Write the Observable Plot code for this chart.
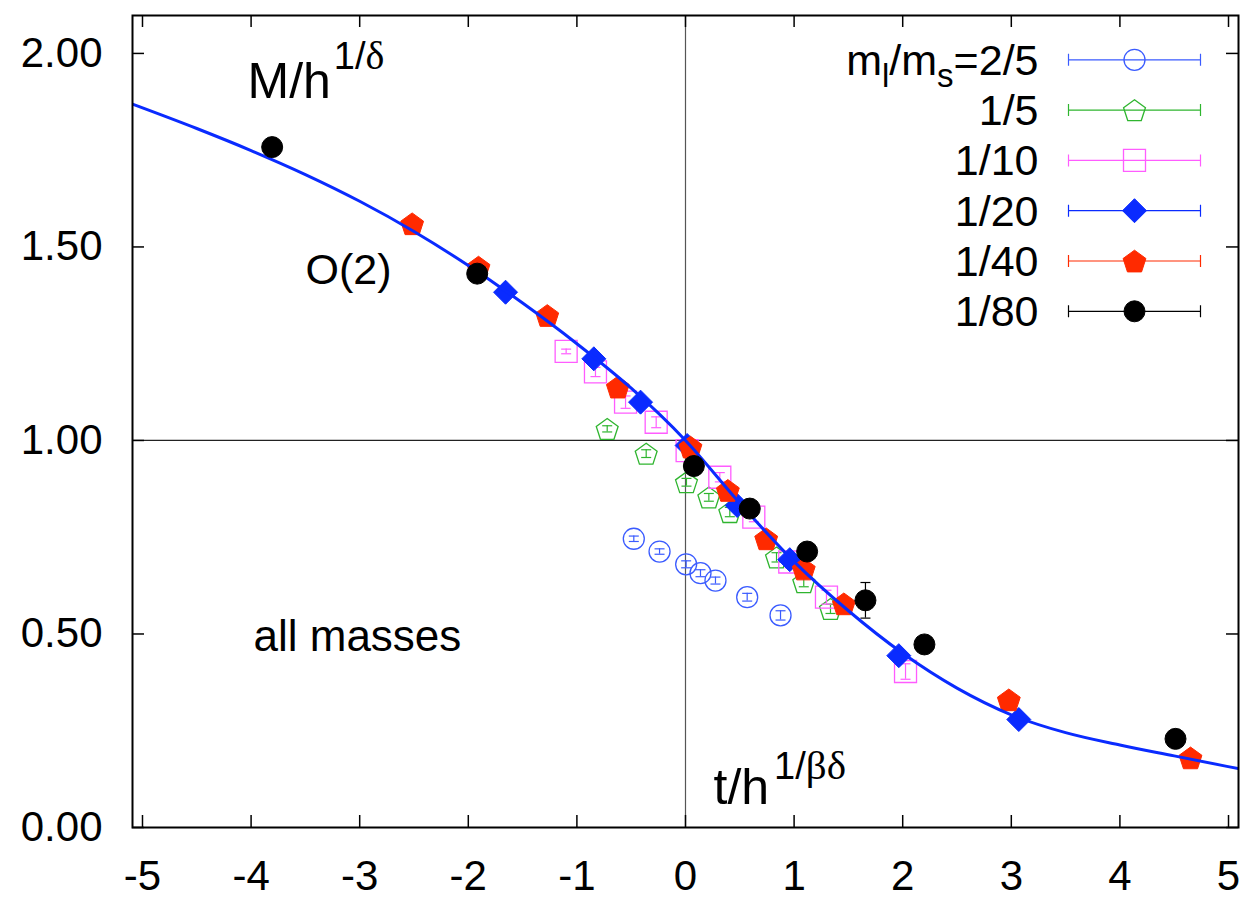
<!DOCTYPE html>
<html>
<head>
<meta charset="utf-8">
<script src="https://cdn.jsdelivr.net/npm/d3@7"></script>
<script src="https://cdn.jsdelivr.net/npm/@observablehq/plot@0.6"></script>
<style>
  html, body { margin: 0; padding: 0; background: #fff; }
  #chart { width: 1258px; height: 903px; }
</style>
</head>
<body>
<div id="chart"></div>
<script>
// ---------- data ----------
const xTicks = [-5, -4, -3, -2, -1, 0, 1, 2, 3, 4, 5];
const yTicks = [0, 0.5, 1, 1.5, 2];
const legendLabels = ["ml/ms=2/5", "1/5", "1/10", "1/20", "1/40", "1/80"];

// m_l/m_s = 2/5
const s25_x = [-0.476, -0.239, 0.006, 0.138, 0.276, 0.568, 0.875];
const s25_y = [0.746, 0.713, 0.680, 0.657, 0.638, 0.595, 0.548];
const s25_e = [0.007, 0.007, 0.009, 0.009, 0.009, 0.010, 0.012];
// 1/5
const s5_x = [-0.721, -0.362, 0.009, 0.215, 0.408, 0.838, 1.089, 1.335];
const s5_y = [1.030, 0.966, 0.892, 0.853, 0.815, 0.698, 0.634, 0.565];
const s5_e = [0.008, 0.010, 0.010, 0.010, 0.012, 0.012, 0.012, 0.012];
// 1/10
const s10_x = [-1.099, -0.829, -0.552, -0.270, 0.015, 0.316, 0.629, 0.960, 1.298, 2.026];
const s10_y = [1.230, 1.177, 1.099, 1.047, 0.974, 0.905, 0.802, 0.686, 0.595, 0.403];
const s10_e = [0.006, 0.012, 0.016, 0.014, 0.012, 0.012, 0.012, 0.015, 0.018, 0.020];
// 1/20
const s20_x = [-1.657, -0.844, -0.414, 0.015, 0.476, 0.960, 1.964, 3.069];
const s20_y = [1.383, 1.211, 1.099, 0.987, 0.832, 0.692, 0.444, 0.279];
const s20_e = [0.004, 0.004, 0.004, 0.004, 0.004, 0.004, 0.004, 0.004];
// 1/40
const s40_x = [-2.517, -1.906, -1.273, -0.623, 0.046, 0.390, 0.743, 1.089, 1.458, 2.977, 4.650];
const s40_y = [1.560, 1.448, 1.323, 1.138, 0.983, 0.871, 0.746, 0.668, 0.578, 0.330, 0.180];
const s40_e = [0.005, 0.012, 0.006, 0.010, 0.006, 0.006, 0.006, 0.006, 0.008, 0.005, 0.005];
// 1/80
const s80_x = [-3.806, -1.918, 0.077, 0.592, 1.120, 1.657, 2.200, 4.512];
const s80_y = [1.758, 1.431, 0.934, 0.824, 0.713, 0.587, 0.473, 0.229];
const s80_e = [0.006, 0.006, 0.008, 0.008, 0.010, 0.046, 0.008, 0.008];

// O(2) scaling curve
const curveX = [-5.092, -4.5, -4.0, -3.5, -3.0, -2.5, -2.0, -1.5, -1.0, -0.5, 0.0, 0.5, 1.0, 1.5, 2.0, 2.5, 3.0, 3.5, 4.0, 4.5, 5.092];
const curveY = [1.869, 1.806, 1.749, 1.687, 1.618, 1.540, 1.452, 1.355, 1.250, 1.135, 1.000, 0.838, 0.687, 0.560, 0.450, 0.360, 0.291, 0.245, 0.213, 0.185, 0.152];

// ---------- symbols ----------
const pentagonSym = { draw(ctx, size) {
  const R = Math.sqrt(size / Math.PI);
  for (let k = 0; k < 5; k++) {
    const a = -Math.PI / 2 + k * 2 * Math.PI / 5;
    const px = R * Math.cos(a), py = R * Math.sin(a) + R * 0.1;
    k ? ctx.lineTo(px, py) : ctx.moveTo(px, py);
  }
  ctx.closePath();
}};
const squareSym = { draw(ctx, size) {
  const h = Math.sqrt(size / Math.PI);
  ctx.moveTo(-h, -h); ctx.lineTo(h, -h); ctx.lineTo(h, h); ctx.lineTo(-h, h); ctx.closePath();
}};
const diamondSym = { draw(ctx, size) {
  const h = Math.sqrt(size / Math.PI);
  ctx.moveTo(0, -h); ctx.lineTo(h, 0); ctx.lineTo(0, h); ctx.lineTo(-h, 0); ctx.closePath();
}};
const capSym = { draw(ctx, size) {
  const h = Math.sqrt(size / Math.PI);
  ctx.moveTo(-h, 0); ctx.lineTo(h, 0);
}};
const legendBarSym = { draw(ctx, size) {
  const h = Math.sqrt(size / Math.PI);
  ctx.moveTo(-h, 0); ctx.lineTo(h, 0);
  ctx.moveTo(-h, -6); ctx.lineTo(-h, 6);
  ctx.moveTo(h, -6); ctx.lineTo(h, 6);
}};

const series = [
  {x: s25_x, y: s25_y, e: s25_e, color: "#3a5bff", symbol: "circle", r: 10.5, fill: "none", sw: 1.3},
  {x: s5_x,  y: s5_y,  e: s5_e,  color: "#2fb52f", symbol: pentagonSym, r: 11.5, fill: "none", sw: 1.3},
  {x: s10_x, y: s10_y, e: s10_e, color: "#ff5cff", symbol: squareSym, r: 11, fill: "none", sw: 1.3},
  {x: s20_x, y: s20_y, e: s20_e, color: "#0a2bff", symbol: diamondSym, r: 12, fill: "#0a2bff", sw: 1},
  {x: s40_x, y: s40_y, e: s40_e, color: "#ff2a00", symbol: pentagonSym, r: 12, fill: "#ff2a00", sw: 1},
  {x: s80_x, y: s80_y, e: s80_e, color: "#000000", symbol: "circle", r: 10.5, fill: "#000000", sw: 1}
];

function seriesMarks(s) {
  const data = s.x.map((x, i) => ({x, y: s.y[i], e: s.e[i]}));
  return [
    Plot.ruleX(data, {x: "x", y1: d => d.y - d.e, y2: d => d.y + d.e, stroke: s.color, strokeWidth: 1.2}),
    Plot.dot(data, {x: "x", y: d => d.y + d.e, symbol: capSym, r: 5, stroke: s.color, fill: "none", strokeWidth: 1.2}),
    Plot.dot(data, {x: "x", y: d => d.y - d.e, symbol: capSym, r: 5, stroke: s.color, fill: "none", strokeWidth: 1.2}),
    Plot.dot(data, {x: "x", y: "y", symbol: s.symbol, r: s.r, fill: s.fill, stroke: s.color, strokeWidth: s.sw})
  ];
}

function legendMarks(s, i, label) {
  const dy = 44.3 + 50.3 * i;
  return [
    Plot.dot([0], {frameAnchor: "top-right", dx: -104, dy, symbol: legendBarSym, r: 66, stroke: s.color, fill: "none", strokeWidth: 1.2}),
    Plot.dot([0], {frameAnchor: "top-right", dx: -104, dy, symbol: s.symbol, r: s.r, fill: s.fill, stroke: s.color, strokeWidth: s.sw}),
    Plot.text([label], {frameAnchor: "top-right", dx: -200, dy: dy + 15, text: d => d, textAnchor: "end", lineAnchor: "bottom", fontSize: 43, fill: "black"})
  ];
}

const curveData = curveX.map((x, i) => ({x, y: curveY[i]}));
const W = 1258, H = 903, mL = 132, mR = 20, mT = 15, mB = 76;
const frameW = W - mL - mR, frameH = H - mT - mB;

const marks = [
  Plot.ruleX([0], {stroke: "#555", strokeWidth: 1.2}),
  Plot.ruleY([1], {stroke: "#222", strokeWidth: 1.2}),
  // inward ticks on all four sides
  Plot.ruleX(xTicks, {x: d => d, insetTop: frameH - 12, stroke: "black", strokeWidth: 1.5}),
  Plot.ruleX(xTicks, {x: d => d, insetBottom: frameH - 12, stroke: "black", strokeWidth: 1.5}),
  Plot.ruleY(yTicks, {y: d => d, insetRight: frameW - 12, stroke: "black", strokeWidth: 1.5}),
  Plot.ruleY(yTicks, {y: d => d, insetLeft: frameW - 12, stroke: "black", strokeWidth: 1.5}),
  Plot.axisX({ticks: xTicks, tickSize: 0, tickPadding: 33, fontSize: 42, tickFormat: d => String(d), label: null}),
  Plot.axisY({ticks: yTicks, tickSize: 0, tickPadding: 30, fontSize: 42, tickFormat: d3.format(".2f"), label: null})
];
series.slice(0, 5).forEach(s => marks.push(...seriesMarks(s)));
marks.push(Plot.line(curveData, {x: "x", y: "y", curve: "monotone-x", stroke: "#0a2bff", strokeWidth: 3, clip: true}));
marks.push(...seriesMarks(series[5]));
series.forEach((s, i) => marks.push(...legendMarks(s, i, legendLabels[i])));
// annotations
marks.push(
  Plot.text(["M/h"], {frameAnchor: "top-left", dx: 115, dy: 82, text: d => d, textAnchor: "start", lineAnchor: "bottom", fontSize: 50, fill: "black"}),
  Plot.text(["O(2)"], {frameAnchor: "top-left", dx: 173, dy: 268, text: d => d, textAnchor: "start", lineAnchor: "bottom", fontSize: 43, fill: "black"}),
  Plot.text(["all masses"], {frameAnchor: "top-left", dx: 121, dy: 635, text: d => d, textAnchor: "start", lineAnchor: "bottom", fontSize: 44, fill: "black"}),
  Plot.text(["t/h"], {frameAnchor: "top-left", dx: 581, dy: 788, text: d => d, textAnchor: "start", lineAnchor: "bottom", fontSize: 50, fill: "black"}),
  Plot.frame({stroke: "black", strokeWidth: 2})
);

const chart = Plot.plot({
  width: W, height: H,
  marginLeft: mL, marginRight: mR, marginTop: mT, marginBottom: mB,
  x: {domain: [-5.092, 5.092]},
  y: {domain: [0, 2.098]},
  style: {fontFamily: "'Liberation Sans', Arial, Helvetica, sans-serif", background: "white", color: "black", overflow: "visible"},
  marks
});
document.getElementById("chart").appendChild(chart);

// rich text (sub/superscripts) as real tspans
const NS = "http://www.w3.org/2000/svg";
function rich(el, parts) {
  el.textContent = "";
  for (const p of parts) {
    const ts = document.createElementNS(NS, "tspan");
    ts.textContent = p.t;
    if (p.dy) ts.setAttribute("dy", p.dy);
    if (p.size) ts.setAttribute("font-size", p.size);
    if (p.family) ts.setAttribute("font-family", p.family);
    if (p.dx) ts.setAttribute("dx", p.dx);
    el.appendChild(ts);
  }
}
const serif = "'Liberation Serif', 'DejaVu Serif', serif";
chart.querySelectorAll("text").forEach(el => {
  const t = el.textContent;
  if (t === "ml/ms=2/5") {
    rich(el, [{t: "m"}, {t: "l", dy: 12, size: 33}, {t: "/m", dy: -12}, {t: "s", dy: 12, size: 33}, {t: "=2/5", dy: -12}]);
  } else if (t === "M/h") {
    rich(el, [{t: "M/h"}, {t: "1/", dy: -29, size: 38, dx: 3}, {t: "δ", size: 40, family: serif}]);
  } else if (t === "t/h") {
    rich(el, [{t: "t/h"}, {t: "1/", dy: -25, size: 38, dx: 5}, {t: "βδ", size: 41, family: serif}]);
  }
});
</script>
</body>
</html>
